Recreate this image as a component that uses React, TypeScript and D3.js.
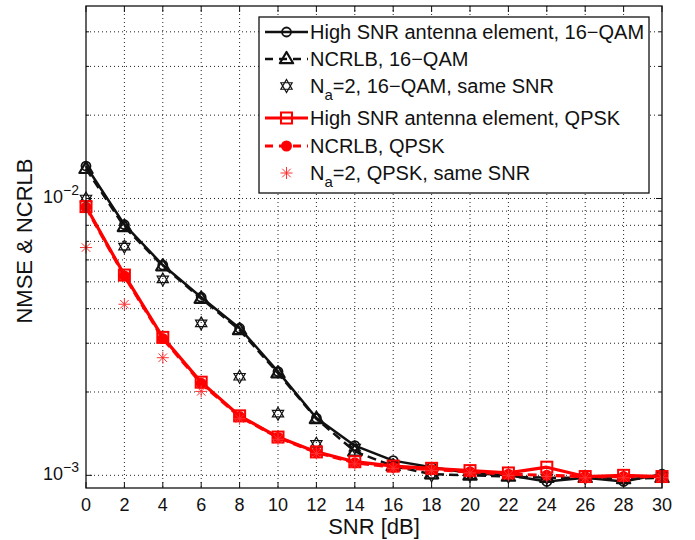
import React from "react";
import * as d3 from "d3";

const snr = [0, 2, 4, 6, 8, 10, 12, 14, 16, 18, 20, 22, 24, 26, 28, 30];
const highSnr16 = [0.0131, 0.00804, 0.00575, 0.0044, 0.0034, 0.00237, 0.00161, 0.00128, 0.00113, 0.00107, 0.00102, 0.001, 0.00095, 0.00098, 0.00095, 0.00101];
const ncrlb16 = [0.0128, 0.0079, 0.0057, 0.00435, 0.00335, 0.00234, 0.0016, 0.00122, 0.00108, 0.00101, 0.001, 0.00099, 0.00098, 0.00098, 0.00097, 0.00098];
const na2_16 = [0.01, 0.0067, 0.0051, 0.00354, 0.00227, 0.00167, 0.0013, 0.00126, 0.00108, 0.001, 0.001, 0.00099, 0.00098, 0.00098, 0.00097, 0.00099];
const highSnrQpsk = [0.00935, 0.00529, 0.00315, 0.00217, 0.00164, 0.001375, 0.001215, 0.00112, 0.00108, 0.00106, 0.00104, 0.00102, 0.00107, 0.00099, 0.001, 0.00099];
const ncrlbQpsk = [0.0093, 0.00525, 0.00312, 0.00215, 0.00163, 0.00137, 0.00121, 0.00111, 0.00107, 0.00105, 0.00103, 0.00101, 0.001, 0.00099, 0.00099, 0.00099];
const na2Qpsk = [0.00665, 0.00415, 0.00266, 0.00201, 0.0016, 0.00135, 0.0012, 0.0011, 0.00106, 0.00104, 0.00102, 0.001, 0.00099, 0.00098, 0.00098, 0.00098];

const xTicks = snr;
const legendLabels = [
  "High SNR antenna element, 16\u2212QAM",
  "NCRLB, 16\u2212QAM",
  "N|a|=2, 16\u2212QAM, same SNR",
  "High SNR antenna element, QPSK",
  "NCRLB, QPSK",
  "N|a|=2, QPSK, same SNR",
];

const W = 695, H = 540;
const L = 86, R = 662, T = 6, B = 488;
const FONT = "'Liberation Sans', Arial, Helvetica, sans-serif";

const x = d3.scaleLinear().domain([0, 30]).range([L, R]);
const y = d3.scaleLog().domain([9e-4, 0.05]).range([B, 5]);

const minorY: number[] = [];
for (const dec of [1e-3, 1e-2]) for (let k = 1; k <= 9; k++) { const v = k * dec; if (v >= 9e-4 && v < 0.0499) minorY.push(v); }

const hexagram = (cx: number, cy: number, r: number) => {
  const t1 = [0, 1, 2].map(i => { const a = -Math.PI / 2 + i * 2 * Math.PI / 3; return [cx + r * Math.cos(a), cy + r * Math.sin(a)]; });
  const t2 = [0, 1, 2].map(i => { const a = Math.PI / 2 + i * 2 * Math.PI / 3; return [cx + r * Math.cos(a), cy + r * Math.sin(a)]; });
  return "M" + t1.map(p => p.join(",")).join("L") + "Z M" + t2.map(p => p.join(",")).join("L") + "Z";
};
const asterisk = (cx: number, cy: number, r: number) => {
  let d = "";
  for (let i = 0; i < 4; i++) { const a = i * Math.PI / 4; d += `M${cx - r * Math.cos(a)},${cy - r * Math.sin(a)}L${cx + r * Math.cos(a)},${cy + r * Math.sin(a)}`; }
  return d;
};
const tri = (cx: number, cy: number, r: number) => `M${cx},${cy - r}L${cx + r * 0.95},${cy + r * 0.6}L${cx - r * 0.95},${cy + r * 0.6}Z`;

type MarkerKind = "circle" | "triangle" | "hexagram" | "square" | "dot" | "asterisk";
const Marker = ({ kind, cx, cy }: { kind: MarkerKind; cx: number; cy: number }) => {
  switch (kind) {
    case "circle": return <circle cx={cx} cy={cy} r={4.5} fill="none" stroke="#111" strokeWidth={1.8} />;
    case "triangle": return <path d={tri(cx, cy, 7)} fill="none" stroke="#111" strokeWidth={2.2} strokeLinejoin="round" />;
    case "hexagram": return <path d={hexagram(cx, cy, 6.5)} fill="none" stroke="#111" strokeWidth={1.2} />;
    case "square": return <rect x={cx - 5.5} y={cy - 5.5} width={11} height={11} fill="none" stroke="#f00" strokeWidth={2} />;
    case "dot": return <circle cx={cx} cy={cy} r={5.5} fill="#f00" />;
    case "asterisk": return <path d={asterisk(cx, cy, 6)} fill="none" stroke="#f33" strokeWidth={1} />;
  }
};

const series = [
  { data: highSnr16, color: "#111", dash: "", width: 2.5, marker: "circle" as MarkerKind, line: true },
  { data: ncrlb16, color: "#111", dash: "9,5", width: 2.5, marker: "triangle" as MarkerKind, line: true },
  { data: na2_16, color: "#111", dash: "", width: 0, marker: "hexagram" as MarkerKind, line: false },
  { data: highSnrQpsk, color: "#f00", dash: "", width: 3.2, marker: "square" as MarkerKind, line: true },
  { data: ncrlbQpsk, color: "#f00", dash: "9,5", width: 3.2, marker: "dot" as MarkerKind, line: true },
  { data: na2Qpsk, color: "#f00", dash: "", width: 0, marker: "asterisk" as MarkerKind, line: false },
];

const lineGen = d3.line<number>().x((_, i) => x(snr[i])).y(v => y(v));

const LegendText = ({ label, tx, ty }: { label: string; tx: number; ty: number }) => {
  const parts = label.split("|");
  if (parts.length === 1) return <text x={tx} y={ty} fontSize={20} fontFamily={FONT} fill="#111">{label}</text>;
  return (
    <text x={tx} y={ty} fontSize={20} fontFamily={FONT} fill="#111">
      {parts[0]}
      <tspan dy={7} fontSize={15}>{parts[1]}</tspan>
      <tspan dy={-7}>{parts[2]}</tspan>
    </text>
  );
};

export default function App() {
  const legRows = [32, 59, 86, 118, 146, 173];
  return (
    <svg width={W} height={H} style={{ position: "absolute", left: 0, top: 0, background: "#fff" }}>
      <rect x={0} y={0} width={W} height={H} fill="#fff" />
      {/* grid */}
      <g stroke="#222" strokeWidth={1} strokeDasharray="1,3">
        {xTicks.slice(1, -1).map(t => <line key={"gx" + t} x1={x(t)} x2={x(t)} y1={T} y2={B} />)}
        {minorY.map(v => <line key={"gy" + v} x1={L} x2={R} y1={y(v)} y2={y(v)} />)}
      </g>
      {/* ticks */}
      <g stroke="#111" strokeWidth={1}>
        {xTicks.map(t => (
          <g key={"tx" + t}>
            <line x1={x(t)} x2={x(t)} y1={B} y2={B - 6} />
            <line x1={x(t)} x2={x(t)} y1={T} y2={T + 6} />
          </g>
        ))}
        {minorY.map(v => {
          const major = Math.abs(Math.log10(v) - Math.round(Math.log10(v))) < 1e-6;
          const len = major ? 6 : 3;
          return (
            <g key={"ty" + v}>
              <line x1={L} x2={L + len} y1={y(v)} y2={y(v)} />
              <line x1={R} x2={R - len} y1={y(v)} y2={y(v)} />
            </g>
          );
        })}
      </g>
      {/* series */}
      <g>
        {series.map((s, si) => (
          <g key={"s" + si}>
            {s.line && <path d={lineGen(s.data) || ""} fill="none" stroke={s.color} strokeWidth={s.width} strokeDasharray={s.dash || undefined} strokeLinejoin="round" />}
            {s.data.map((v, i) => <Marker key={i} kind={s.marker} cx={x(snr[i])} cy={y(v)} />)}
          </g>
        ))}
      </g>
      {/* frame */}
      <rect x={L} y={T} width={R - L} height={B - T} fill="none" stroke="#111" strokeWidth={1.3} />
      {/* x tick labels */}
      {xTicks.map(t => (
        <text key={"xl" + t} x={x(t)} y={511} fontSize={18} fontFamily={FONT} textAnchor="middle" fill="#111">{t}</text>
      ))}
      {/* y tick labels */}
      {[1e-2, 1e-3].map(v => (
        <text key={"yl" + v} x={L - 7} y={y(v) + 5} fontSize={18} fontFamily={FONT} textAnchor="end" fill="#111">
          10<tspan dy={-8} fontSize={14}>{"\u2212" + Math.round(-Math.log10(v))}</tspan>
        </text>
      ))}
      <text x={(L + R) / 2} y={534} fontSize={22} fontFamily={FONT} textAnchor="middle" fill="#111">SNR [dB]</text>
      <text transform={`translate(32,${(T + B) / 2 - 6}) rotate(-90)`} fontSize={22} fontFamily={FONT} textAnchor="middle" fill="#111">NMSE &amp; NCRLB</text>
      {/* legend */}
      <rect x={259} y={17} width={390} height={176} fill="#fff" stroke="#111" strokeWidth={1.3} />
      {series.map((s, i) => {
        const cy = legRows[i];
        return (
          <g key={"lg" + i}>
            {s.line && <line x1={265} x2={308} y1={cy} y2={cy} stroke={s.color} strokeWidth={s.width} strokeDasharray={s.dash ? "8,6" : undefined} />}
            <Marker kind={s.marker} cx={286.5} cy={cy} />
            <LegendText label={legendLabels[i]} tx={310} ty={cy + 7} />
          </g>
        );
      })}
    </svg>
  );
}
